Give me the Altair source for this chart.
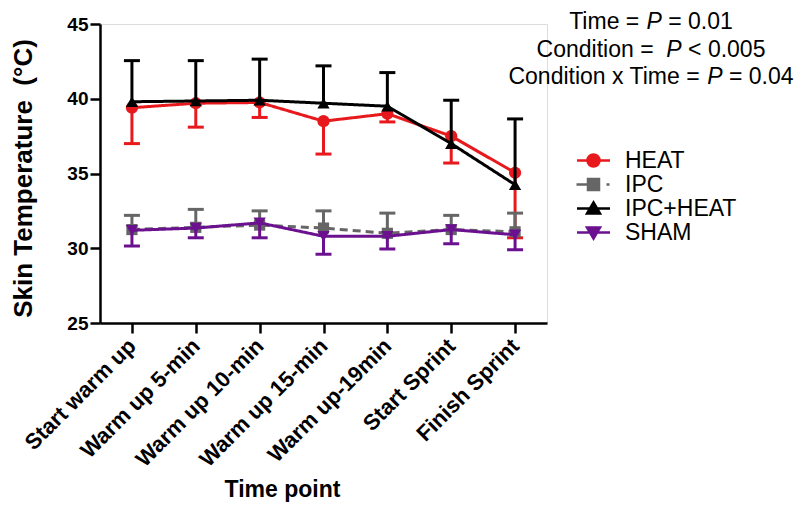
import altair as alt
import pandas as pd

# ---------------- data ----------------
categories = ["Start warm up", "Warm up 5-min", "Warm up 10-min", "Warm up 15-min",
              "Warm up-19min", "Start Sprint", "Finish Sprint"]
series_names = ["HEAT", "IPC", "IPC+HEAT", "SHAM"]

heat_mean = [39.4, 39.7, 39.75, 38.5, 39.0, 37.5, 35.05]
heat_sd = [2.4, 1.6, 1.0, 2.2, 0.55, 1.8, 4.35]
ipc_mean = [31.25, 31.4, 31.55, 31.35, 31.0, 31.25, 31.1]
ipc_sd = [0.95, 1.2, 0.95, 1.15, 1.35, 0.95, 1.25]
ipcheat_mean = [39.8, 39.85, 39.9, 39.7, 39.5, 37.0, 34.25]
ipcheat_sd = [2.75, 2.7, 2.75, 2.5, 2.25, 2.9, 4.4]
sham_mean = [31.2, 31.35, 31.7, 30.8, 30.8, 31.25, 30.9]
sham_sd = [1.05, 0.65, 1.0, 1.2, 0.85, 0.95, 1.0]

y_ticks = [25, 30, 35, 40, 45]

annotation_lines = [
    ("Time =", " ", " = 0.01"),
    ("Condition =", "  ", " < 0.005"),
    ("Condition x Time =", " ", " = 0.04"),
]

# ---------------- styles ----------------
FONT = "Liberation Sans"
colors = {"HEAT": "#e8191c", "IPC": "#666666", "IPC+HEAT": "#000000", "SHAM": "#6b1190"}
shapes = {"HEAT": "circle", "IPC": "square", "IPC+HEAT": "triangle-up", "SHAM": "triangle-down"}
sizes = {"HEAT": 150, "IPC": 125, "IPC+HEAT": 150, "SHAM": 150}
dashes = {"HEAT": [1, 0], "IPC": [8, 5], "IPC+HEAT": [1, 0], "SHAM": [1, 0]}
direction = {"HEAT": -1, "IPC": 1, "IPC+HEAT": 1, "SHAM": -1}

means = {"HEAT": heat_mean, "IPC": ipc_mean, "IPC+HEAT": ipcheat_mean, "SHAM": sham_mean}
sds = {"HEAT": heat_sd, "IPC": ipc_sd, "IPC+HEAT": ipcheat_sd, "SHAM": sham_sd}

rows = []
for s in series_names:
    for t, m, sd in zip(categories, means[s], sds[s]):
        rows.append({"series": s, "time": t, "mean": m, "end": m + direction[s] * sd})
df = pd.DataFrame(rows)

x_axis = alt.Axis(title="Time point", labelAngle=-45, labelAlign="right", labelBaseline="middle",
                  labelFont=FONT, labelFontSize=22, labelFontWeight="bold", labelColor="black",
                  labelPadding=9, tickSize=10, tickWidth=2.5, tickColor="black",
                  domainColor="black", domainWidth=2.5, titleFont=FONT, titleFontSize=23,
                  titleFontWeight="bold", titleColor="black", titleX=182, titleY=173,
                  titleAnchor="start", titleAlign="center", titleBaseline="alphabetic")
y_axis = alt.Axis(title="Skin Temperature\u00a0\u00a0(°C)", values=y_ticks, grid=False,
                  labelFont=FONT, labelFontSize=19, labelFontWeight="bold", labelColor="black",
                  labelPadding=2, tickSize=10, tickWidth=2.5, tickColor="black",
                  domainColor="black", domainWidth=2.5, titleFont=FONT, titleFontSize=26,
                  titleFontWeight="bold", titleColor="black", titleX=-77, titleY=154,
                  titleAngle=270, titleAlign="center", titleBaseline="middle")

x_enc = alt.X("time:O", sort=categories, scale=alt.Scale(type="point", padding=0.5), axis=x_axis)
y_scale = alt.Scale(domain=[25, 45], nice=False, zero=False)

layers = []
for s in series_names:
    base = alt.Chart(df).transform_filter(alt.datum.series == s)
    c = colors[s]
    bar = base.mark_rule(color=c, strokeWidth=3).encode(
        x=x_enc, y=alt.Y("mean:Q", scale=y_scale, axis=y_axis), y2="end:Q")
    cap = base.mark_tick(color=c, size=16, thickness=3, orient="horizontal", opacity=1).encode(
        x=x_enc, y=alt.Y("end:Q", scale=y_scale, axis=y_axis))
    line = base.mark_line(color=c, strokeWidth=3, strokeDash=dashes[s]).encode(
        x=x_enc, y=alt.Y("mean:Q", scale=y_scale, axis=y_axis))
    pts = base.mark_point(filled=True, shape=shapes[s], size=sizes[s], color=c, opacity=1).encode(
        x=x_enc, y=alt.Y("mean:Q", scale=y_scale, axis=y_axis))
    layers += [bar, cap, line, pts]

# legend-only layer (no marks drawn)
legend_paths = [
    "M-1.65,0H1.65M-0.6,0A0.6,0.6,0,1,0,0.6,0A0.6,0.6,0,1,0,-0.6,0Z",
    "M-1.7,0H-0.4M1.3,0H1.6M-0.55,-0.55H0.55V0.55H-0.55Z",
    "M-1.65,0H1.65M0,-0.6L0.65,0.5H-0.65Z",
    "M-1.65,0H1.65M0,0.6L0.65,-0.5H-0.65Z",
]
color_list = [colors[s] for s in series_names]
leg = alt.Legend(title=None, orient="none", legendX=482, legendY=125, labelFont=FONT,
                 labelFontSize=23, labelColor="black", symbolSize=400, symbolStrokeWidth=2.5,
                 labelOffset=20, rowPadding=0, padding=0, symbolOpacity=1)
legend_layer = alt.Chart(df).transform_filter("false").mark_point(
    filled=True, size=400, strokeWidth=2.5, opacity=1).encode(
    fill=alt.Fill("series:N", scale=alt.Scale(domain=series_names, range=color_list), legend=leg),
    stroke=alt.Stroke("series:N", scale=alt.Scale(domain=series_names, range=color_list), legend=leg),
    shape=alt.Shape("series:N", scale=alt.Scale(domain=series_names, range=legend_paths), legend=leg),
)
layers.append(legend_layer)

# annotation text (P in italics)
W = {"T": 611, "i": 222, "m": 833, "e": 556, " ": 278, "=": 584, "P": 667, "0": 556, ".": 278,
     "1": 556, "C": 722, "o": 556, "n": 556, "d": 556, "t": 278, "x": 500, "<": 584, "5": 556, "4": 556}
FS = 23


def tw(s):
    return sum(W.get(ch, 556) for ch in s) * FS / 1000.0


cx = 551
baselines = [5, 33, 60]
for (pre, gap, post), by in zip(annotation_lines, baselines):
    total = tw(pre) + tw(gap) + tw("P") + tw(post)
    x0 = cx - total / 2
    xp = x0 + tw(pre) + tw(gap)
    xpost = xp + tw("P") + tw(" ")
    for txt, xx, style in [(pre, x0, "normal"), ("P", xp, "italic"), (post.strip(), xpost, "normal")]:
        layers.append(
            alt.Chart(pd.DataFrame({"t": [txt]})).mark_text(
                font=FONT, fontSize=FS, fontStyle=style, color="black", align="left",
                baseline="alphabetic").encode(x=alt.value(xx), y=alt.value(by), text="t:N"))

chart = alt.layer(*layers).properties(
    width=447, height=299,
    autosize=alt.AutoSizeParams(type="none"),
    padding={"left": 92, "top": 16, "right": 255, "bottom": 180},
).configure_view(stroke=None).configure(background="white")

chart.save("out.html", embed_options={"renderer": "svg", "actions": False})
